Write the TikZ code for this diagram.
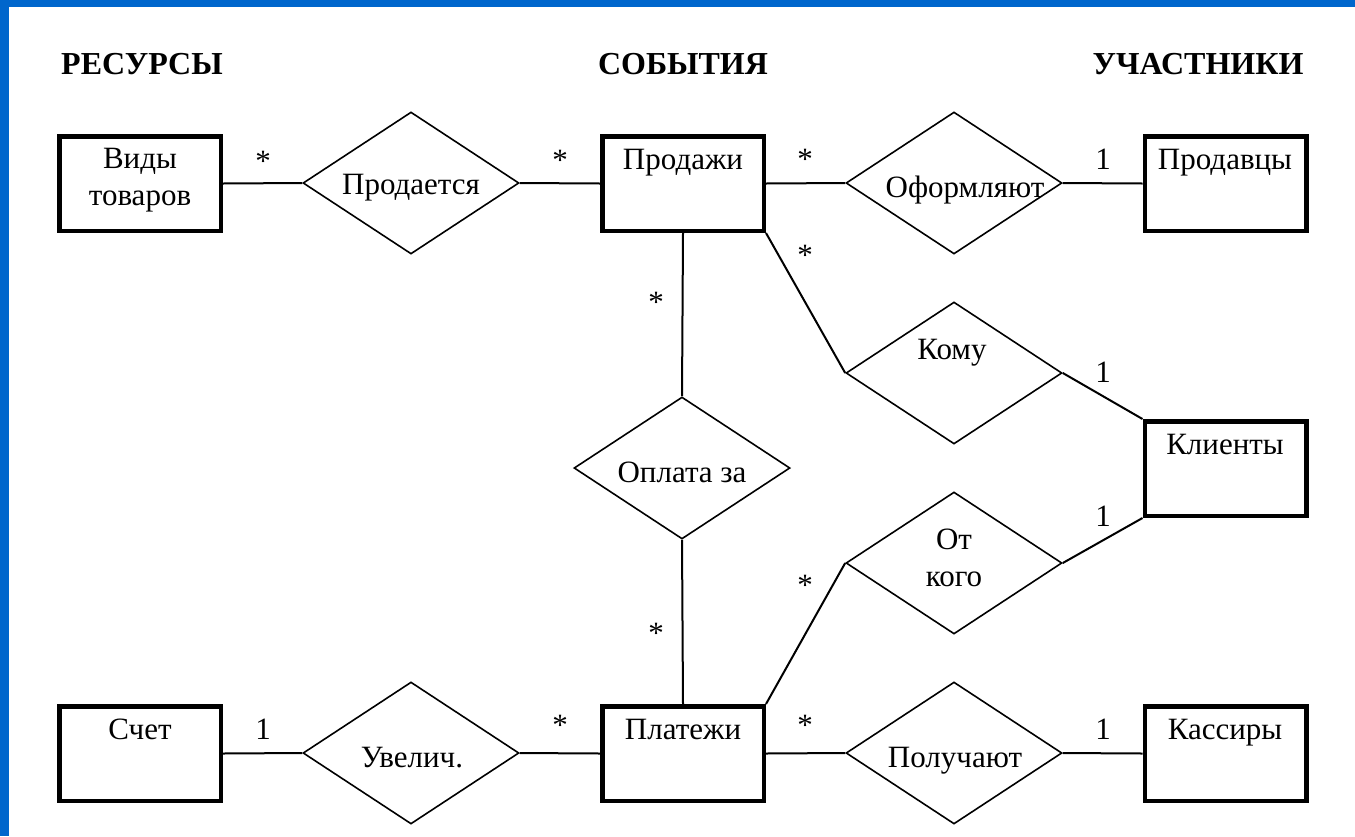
\documentclass[tikz,border=0pt]{standalone}
\usepackage{fontspec}
\setmainfont{Liberation Serif}
\usetikzlibrary{shapes.geometric}
\definecolor{frameblue}{RGB}{0,102,204}
\tikzset{
  entity/.style={draw, line width=4.5pt, rectangle, minimum width=161.5pt, minimum height=94.5pt, inner sep=0pt},
  rel/.style={draw, line width=1.6pt, diamond, minimum width=216pt, minimum height=142pt, inner sep=0pt},
  conn/.style={line width=2pt},
  txt/.style={font=\fontsize{31}{37}\selectfont, anchor=base, inner sep=0pt, align=center},
  head/.style={font=\fontsize{32}{38}\selectfont\bfseries, anchor=base, inner sep=0pt},
  mult/.style={font=\fontsize{31}{37}\selectfont, anchor=base, inner sep=0pt}
}
\begin{document}
\begin{tikzpicture}[x=1pt,y=-1pt]
\useasboundingbox (0,0) rectangle (1355,836);
\fill[white] (0,0) rectangle (1355,836);
\fill[frameblue] (0,0) rectangle (9,836);
\fill[frameblue] (0,0) rectangle (1355,7);

% headers
\node[head] (h1) at (142,74) {РЕСУРСЫ};
\node[head] (h2) at (683,74) {СОБЫТИЯ};
\node[head] (h3) at (1198,74) {УЧАСТНИКИ};

% entities
\node[entity] (vidy) at (140,183.5) {};
\node[entity] (prod) at (683,183.5) {};
\node[entity] (prodavcy) at (1225.5,183.5) {};
\node[entity] (klienty) at (1225.5,468.5) {};
\node[entity] (schet) at (140,753.5) {};
\node[entity] (plat) at (683,753.5) {};
\node[entity] (kass) at (1225.5,753.5) {};

% relationships
\node[rel] (prodaetsya) at (411,183) {};
\node[rel] (oform) at (954,183) {};
\node[rel] (komu) at (954,373) {};
\node[rel] (oplata) at (682,468) {};
\node[rel] (otkogo) at (954,563) {};
\node[rel] (uvel) at (411,753) {};
\node[rel] (poluch) at (954,753) {};

% entity texts
\node[txt] (t-vidy) at (140,205) {Виды\\товаров};
\node[txt] (t-prod) at (683,169) {Продажи};
\node[txt] (t-prodavcy) at (1225,169) {Продавцы};
\node[txt] (t-klienty) at (1225,454) {Клиенты};
\node[txt] (t-schet) at (140,739) {Счет};
\node[txt] (t-plat) at (683,739) {Платежи};
\node[txt] (t-kass) at (1225,739) {Кассиры};

% relationship texts
\node[txt] (t-prodaetsya) at (411,194) {Продается};
\node[txt] (t-oform) at (965,197) {Оформляют};
\node[txt] (t-komu) at (952,359) {Кому};
\node[txt] (t-oplata) at (682,482) {Оплата за};
\node[txt] (t-otkogo) at (954,586) {От\\кого};
\node[txt] (t-uvel) at (412,767) {Увелич.};
\node[txt] (t-poluch) at (955,767) {Получают};

% connectors
\draw[conn] (vidy.east) -- (prodaetsya.west);
\draw[conn] (prodaetsya.east) -- (prod.west);
\draw[conn] (prod.east) -- (oform.west);
\draw[conn] (oform.east) -- (prodavcy.west);
\draw[conn] (prod.south) -- (oplata.north);
\draw[conn] (oplata.south) -- (plat.north);
\draw[conn] (prod.south east) -- (komu.west);
\draw[conn] (komu.east) -- (klienty.north west);
\draw[conn] (otkogo.east) -- (klienty.south west);
\draw[conn] (plat.north east) -- (otkogo.west);
\draw[conn] (schet.east) -- (uvel.west);
\draw[conn] (uvel.east) -- (plat.west);
\draw[conn] (plat.east) -- (poluch.west);
\draw[conn] (poluch.east) -- (kass.west);

% multiplicities
\node[mult] (m1) at (263,171) {*};
\node[mult] (m2) at (560,170) {*};
\node[mult] (m3) at (805,169) {*};
\node[mult] (m4) at (1103,169) {1};
\node[mult] (m5) at (805,265) {*};
\node[mult] (m6) at (656,312) {*};
\node[mult] (m7) at (1103,382) {1};
\node[mult] (m8) at (1103,526) {1};
\node[mult] (m9) at (805,595) {*};
\node[mult] (m10) at (656,643) {*};
\node[mult] (m11) at (263,739) {1};
\node[mult] (m12) at (560,735) {*};
\node[mult] (m13) at (805,735) {*};
\node[mult] (m14) at (1103,739) {1};
\end{tikzpicture}
\end{document}
